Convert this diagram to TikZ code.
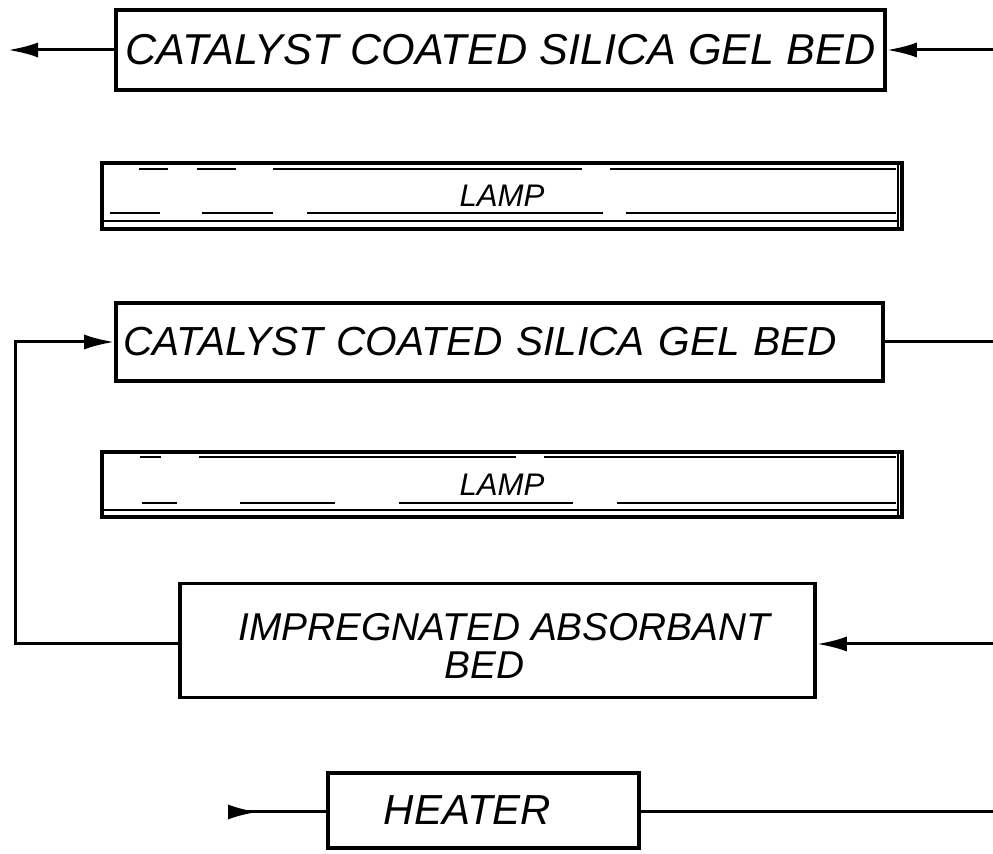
\documentclass[tikz,border=0pt]{standalone}
\usepackage{fontspec}
\setmainfont{Liberation Sans}
\usetikzlibrary{arrows.meta}
\tikzset{
  box/.style={draw, line width=1.8pt, rectangle, inner sep=0pt, font=\itshape},
  lampbox/.style={draw, line width=1.6pt, rectangle, inner sep=0pt, font=\itshape\fontsize{15.6}{18}\selectfont},
  flow/.style={line width=1.5pt},
  tip/.style={-{Latex[length=15pt,width=7.5pt]}},
  lampline/.style={line width=1pt},
}
\begin{document}
\begin{tikzpicture}[x=0.5pt,y=-0.5pt]
\useasboundingbox (0,0) rectangle (993,854);

% boxes
\node[box, minimum width=384.5pt, minimum height=40pt, font=\itshape\fontsize{21.6}{24}\selectfont] (b1) at (500.5,50) {CATALYST COATED SILICA GEL BED};
\node[lampbox, minimum width=400pt, minimum height=33pt] (lamp1) at (502,196) {LAMP};
\node[box, minimum width=383.5pt, minimum height=39pt, inner xsep=3.5pt, text width=376.5pt, align=left, font=\itshape\fontsize{20.3}{24}\selectfont] (b2) at (499.5,342) {CATALYST COATED SILICA GEL BED};
\node[lampbox, minimum width=400pt, minimum height=32.5pt] (lamp2) at (502,484.5) {LAMP};
\node[box, minimum width=317.5pt, minimum height=57pt, font=\itshape\fontsize{19.4}{18.5}\selectfont] (b3) at (497.5,640.5) {\raisebox{-5.5pt}[\height][\depth]{\begin{tabular}{@{}c@{}}IMPREGNATED ABSORBANT\\[0.5pt]BED\hspace*{20pt}\end{tabular}}\hspace*{-7pt}};
\node[box, minimum width=155.5pt, minimum height=37.5pt, font=\itshape\fontsize{21}{24}\selectfont] (heater) at (483.5,810.5) {HEATER\hspace*{16pt}};

% lamp 1 details
\draw[lampline] (139,169) -- (168,169);
\draw[lampline] (197,169) -- (236,169);
\draw[lampline] (273,169) -- (582,169);
\draw[lampline] (610,169) -- (896,169);
\draw[lampline] (110,213) -- (160,213);
\draw[lampline] (202,213) -- (273,213);
\draw[lampline] (307,213) -- (603,213);
\draw[lampline] (626,213) -- (896,213);
\draw[lampline] (102,221) -- (899,221);
\draw[lampline] (898,163) -- (898,229);

% lamp 2 details
\draw[lampline] (140,457) -- (161,457);
\draw[lampline] (199,457) -- (516,457);
\draw[lampline] (544,457) -- (896,457);
\draw[lampline] (142,503) -- (177,503);
\draw[lampline] (240,503) -- (335,503);
\draw[lampline] (399,503) -- (573,503);
\draw[lampline] (617,503) -- (896,503);
\draw[lampline] (102,510) -- (899,510);
\draw[lampline] (898,452) -- (898,517);

% free ends
\coordinate (o1) at (8,50);
\coordinate (i1) at (993,50);
\coordinate (o2) at (993,342);
\coordinate (c3) at (15,644);
\coordinate (i3) at (993,644);
\coordinate (h0) at (228,812);
\coordinate (h1) at (993,812);

% connectors
\draw[flow, tip] (b1.west |- o1) -- (o1);
\draw[flow, tip] (i1) -- (b1.east |- i1);
\draw[flow] (b2.east) -- (o2);
\draw[flow, tip] (b3.west |- c3) -- (c3) |- (b2.west);
\draw[flow, tip] (i3) -- (b3.east |- i3);
\draw[flow, {Latex[reversed,length=15pt,width=7.5pt]}-] (h0) -- (heater.west |- h0);
\draw[flow] (heater.east |- h1) -- (h1);
\end{tikzpicture}
\end{document}
